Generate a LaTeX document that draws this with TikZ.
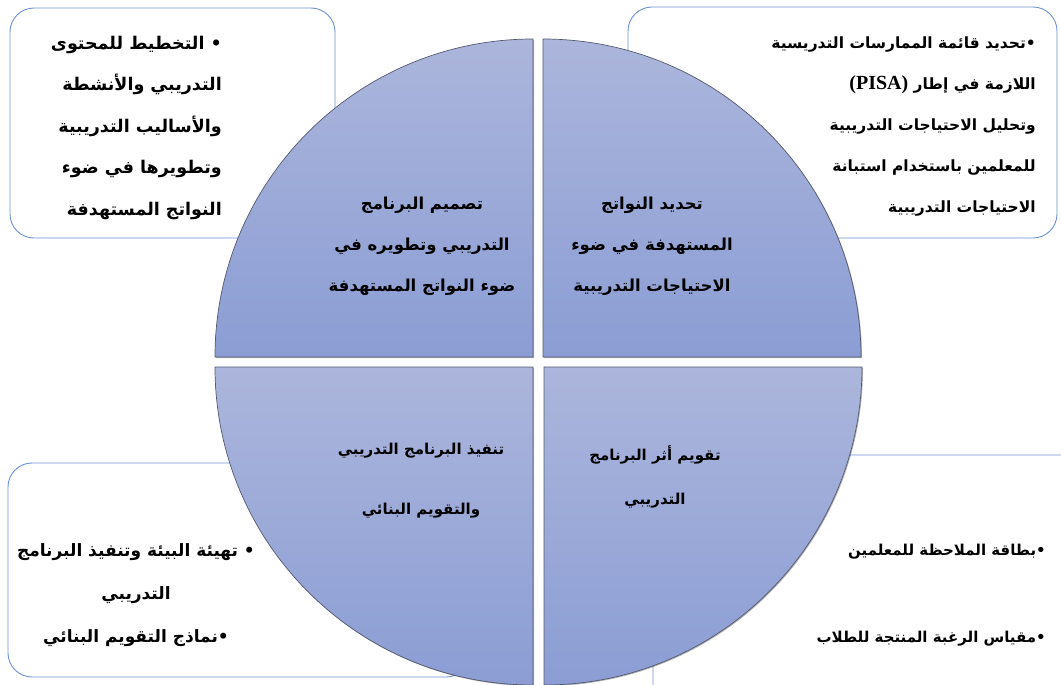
\documentclass[tikz,border=0pt]{standalone}
\usepackage{fontspec}
\usetikzlibrary{shadows}
\TeXXeTstate=1
\newfontfamily\arabicfont[Script=Arabic]{DejaVu Sans}
\newfontfamily\latinserif{Liberation Serif}
\newcommand\rl[1]{\beginR #1\endR}
\definecolor{qtop}{RGB}{172,182,220}
\definecolor{qbot}{RGB}{139,157,212}
\definecolor{qedge}{RGB}{84,90,110}
\definecolor{boxedge}{RGB}{110,146,214}
\begin{document}
\begin{tikzpicture}[x=1pt,y=-1pt,
  sidebox/.style={draw=boxedge, line width=0.9pt, fill=white, rounded corners=24pt},
  quad/.style={draw=qedge, line width=0.7pt, top color=qtop, bottom color=qbot,
    drop shadow={shadow xshift=1pt, shadow yshift=-1pt, opacity=0.3, fill=black}},
  artext/.style 2 args={inner sep=0pt, text=black, font={\arabicfont\bfseries\fontsize{#1}{#2}\selectfont}}]
\useasboundingbox (0,0) rectangle (1061,685);
\clip (0,0) rectangle (1061,685);

% side boxes (partly hidden behind the circle)
\draw[sidebox] (10,8) rectangle (335,238);
\draw[sidebox] (628,7) rectangle (1057,238);
\draw[sidebox] (8,463) rectangle (470,677);
\draw[sidebox] (653,455) rectangle (1090,710);

% the four quadrants of the circle
\def\R{318}
\draw[quad] (533,357) -- ++(180:\R) arc[start angle=180, end angle=270, radius=\R] -- cycle;
\draw[quad] (543,357) -- ++(270:\R) arc[start angle=270, end angle=360, radius=\R] -- cycle;
\draw[quad] (533,367) -- ++(90:\R) arc[start angle=90, end angle=180, radius=\R] -- cycle;
\draw[quad] (544,367) -- ++(0:\R) arc[start angle=0, end angle=90, radius=\R] -- cycle;

% quadrant labels
\node[artext={16.5}{41}, align=center, anchor=north] (design) at (422,197)
  {\rl{تصميم البرنامج}\\ \rl{التدريبي وتطويره في}\\ \rl{ضوء النواتج المستهدفة}};
\node[artext={16.5}{41}, align=center, anchor=north] (outcomes) at (652,197)
  {\rl{تحديد النواتج}\\ \rl{المستهدفة في ضوء}\\ \rl{الاحتياجات التدريبية}};
\node[artext={15}{60}, align=center, anchor=north] (implement) at (421,443)
  {\rl{تنفيذ البرنامج التدريبي}\\ \rl{والتقويم البنائي}};
\node[artext={15}{44}, align=center, anchor=north] (evaluate) at (655,445)
  {\rl{تقويم أثر البرنامج}\\ \rl{التدريبي}};

% side box texts
\node[artext={17.5}{41.5}, align=right, anchor=north east] (planning) at (222,36)
  {\rl{• التخطيط للمحتوى}\\ \rl{التدريبي والأنشطة}\\ \rl{والأساليب التدريبية}\\ \rl{وتطويرها في ضوء}\\ \rl{النواتج المستهدفة}};
\node[artext={15.5}{41}, align=right, anchor=north east] (needs) at (1036,37)
  {\rl{•تحديد قائمة الممارسات التدريسية}\\
   \rl{اللازمة في إطار \beginL{\latinserif\bfseries\fontsize{20}{41}\selectfont (PISA)}\endL}\\
   \rl{وتحليل الاحتياجات التدريبية}\\ \rl{للمعلمين باستخدام استبانة}\\ \rl{الاحتياجات التدريبية}};
\node[artext={17}{43}, align=center, anchor=north] (environment) at (136,543)
  {\rl{• تهيئة البيئة وتنفيذ البرنامج}\\ \rl{التدريبي}\\ \rl{•نماذج التقويم البنائي}};
\node[artext={15}{87}, align=right, anchor=north east] (tools) at (1046,544)
  {\rl{•بطاقة الملاحظة للمعلمين}\\ \rl{•مقياس الرغبة المنتجة للطلاب}};
\end{tikzpicture}
\end{document}
